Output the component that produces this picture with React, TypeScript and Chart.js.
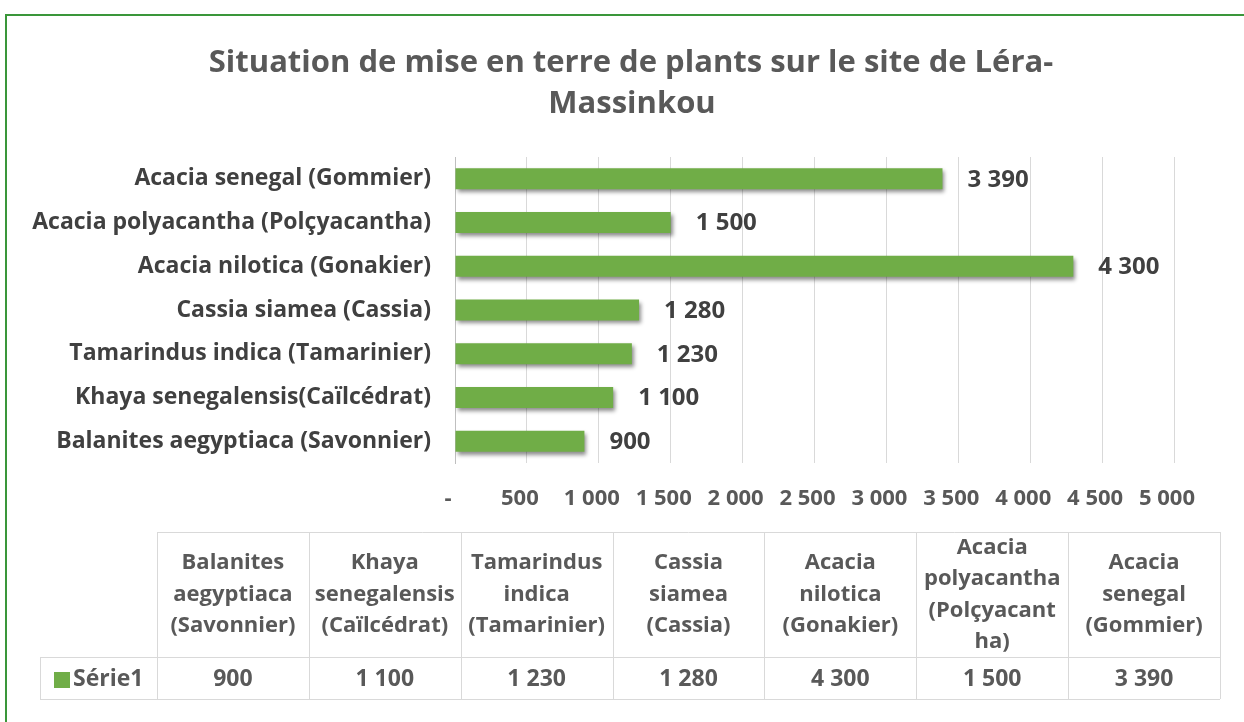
import React, { useEffect, useRef } from "react";
import { Chart, registerables } from "chart.js";

Chart.register(...registerables);

const titleLines = ["Situation de mise en terre de plants sur le site de Léra-", "Massinkou"];
const categories = [
  "Balanites aegyptiaca (Savonnier)",
  "Khaya senegalensis(Caïlcédrat)",
  "Tamarindus indica (Tamarinier)",
  "Cassia siamea (Cassia)",
  "Acacia nilotica (Gonakier)",
  "Acacia polyacantha (Polçyacantha)",
  "Acacia senegal (Gommier)",
];
const tableHeaders = [
  ["Balanites", "aegyptiaca", "(Savonnier)"],
  ["Khaya", "senegalensis", "(Caïlcédrat)"],
  ["Tamarindus", "indica", "(Tamarinier)"],
  ["Cassia", "siamea", "(Cassia)"],
  ["Acacia", "nilotica", "(Gonakier)"],
  ["Acacia", "polyacantha", "(Polçyacant", "ha)"],
  ["Acacia", "senegal", "(Gommier)"],
];
const seriesName = "Série1";
const values = [900, 1100, 1230, 1280, 4300, 1500, 3390];
const axisMin = 0;
const axisMax = 5000;
const axisStep = 500;

const GREEN = "#70AD47";
const FONT = "'Open Sans'";

function fmt(v: number): string {
  if (v === 0) return "-";
  return String(v).replace(/\B(?=(\d{3})+(?!\d))/g, " ");
}

const decorPlugin = {
  id: "decor",
  beforeDatasetsDraw(chart: any) {
    const c = chart.ctx;
    c.save();
    c.shadowColor = "rgba(0,0,0,0.45)";
    c.shadowBlur = 4;
    c.shadowOffsetX = 2;
    c.shadowOffsetY = 3;
  },
  afterDatasetsDraw(chart: any) {
    const c = chart.ctx;
    c.restore();
    const meta = chart.getDatasetMeta(0);
    c.save();
    c.font = `bold 24px ${FONT}`;
    c.fillStyle = "#404040";
    c.textAlign = "left";
    c.textBaseline = "middle";
    meta.data.forEach((el: any, i: number) => {
      c.fillText(fmt(values[i]), el.x + 25, el.y + 1);
    });
    c.restore();
  },
  afterDraw(chart: any) {
    const c = chart.ctx;
    c.save();
    // title
    c.font = `bold 31px ${FONT}`;
    c.fillStyle = "#595959";
    c.textAlign = "center";
    c.textBaseline = "alphabetic";
    c.fillText(titleLines[0], 631, 72);
    c.fillText(titleLines[1], 632, 113);

    // data table
    const left0 = 40;
    const colX0 = 157;
    const right = 1220;
    const colW = (right - colX0) / tableHeaders.length;
    const top = 532;
    const mid = 657;
    const bottom = 699;
    c.strokeStyle = "#d9d9d9";
    c.lineWidth = 1;
    c.beginPath();
    c.moveTo(colX0, top + 0.5);
    c.lineTo(right, top + 0.5);
    c.moveTo(left0, mid + 0.5);
    c.lineTo(right, mid + 0.5);
    c.moveTo(left0, bottom + 0.5);
    c.lineTo(right, bottom + 0.5);
    c.moveTo(left0 + 0.5, mid);
    c.lineTo(left0 + 0.5, bottom);
    for (let i = 0; i <= tableHeaders.length; i++) {
      const x = Math.round(colX0 + i * colW) + 0.5;
      c.moveTo(x, top);
      c.lineTo(x, bottom);
    }
    c.stroke();

    c.font = `bold 22px ${FONT}`;
    c.fillStyle = "#595959";
    c.textAlign = "center";
    c.textBaseline = "middle";
    const lh = 31.5;
    const cy = (top + mid) / 2;
    tableHeaders.forEach((lines, i) => {
      const cx = colX0 + (i + 0.5) * colW;
      const y0 = cy - ((lines.length - 1) * lh) / 2;
      lines.forEach((ln, j) => c.fillText(ln, cx, y0 + j * lh));
    });
    c.font = `bold 23px ${FONT}`;
    const vy = 679;
    values.forEach((v, i) => {
      const cx = colX0 + (i + 0.5) * colW;
      c.fillText(fmt(v), cx, vy);
    });
    // legend key
    c.fillStyle = GREEN;
    c.fillRect(54, 672, 16, 16);
    c.fillStyle = "#595959";
    c.textAlign = "left";
    c.fillText(seriesName, 73, vy);
    c.restore();
  },
};

export default function App() {
  const ref = useRef<HTMLCanvasElement | null>(null);
  useEffect(() => {
    if (!ref.current) return;
    const chart = new Chart(ref.current, {
      type: "bar",
      data: {
        labels: categories,
        datasets: [
          {
            label: seriesName,
            data: values,
            backgroundColor: GREEN,
            borderWidth: 0,
            barPercentage: 0.48,
            categoryPercentage: 1,
          },
        ],
      },
      options: {
        animation: false,
        responsive: false,
        maintainAspectRatio: false,
        indexAxis: "y",
        layout: { padding: { top: 157, left: 0, right: 70, bottom: 209 } },
        plugins: {
          legend: { display: false },
          title: { display: false },
          tooltip: { enabled: false },
        },
        scales: {
          x: {
            min: axisMin,
            max: axisMax,
            ticks: {
              stepSize: axisStep,
              callback: (v: any) => fmt(Number(v)),
              color: "#595959",
              font: { family: FONT, size: 22, weight: "bold" },
              padding: 23,
              labelOffset: -7,
              maxRotation: 0,
              autoSkip: false,
            },
            grid: { color: "#d9d9d9", drawTicks: false },
            border: { display: false },
            afterFit: (s: any) => {
              s.height = 50;
            },
          },
          y: {
            reverse: true,
            ticks: {
              color: "#404040",
              font: { family: FONT, size: 23, weight: "bold" },
              padding: 24,
            },
            grid: { display: false, drawTicks: false },
            border: { display: true, color: "#bfbfbf" },
            afterFit: (s: any) => {
              s.width = 455;
            },
          },
        },
      },
      plugins: [decorPlugin],
    } as any);
    return () => chart.destroy();
  }, []);

  return (
    <div style={{ position: "fixed", left: 0, top: 0, width: 1244, height: 722, background: "#fff", overflow: "hidden" }}>
      <div
        style={{
          position: "absolute",
          left: 5,
          top: 14,
          width: 1300,
          height: 800,
          border: "2px solid #3a963a",
          boxSizing: "border-box",
        }}
      />
      <canvas ref={ref} width={1244} height={722} style={{ position: "absolute", left: 0, top: 0, width: 1244, height: 722 }} />
    </div>
  );
}
